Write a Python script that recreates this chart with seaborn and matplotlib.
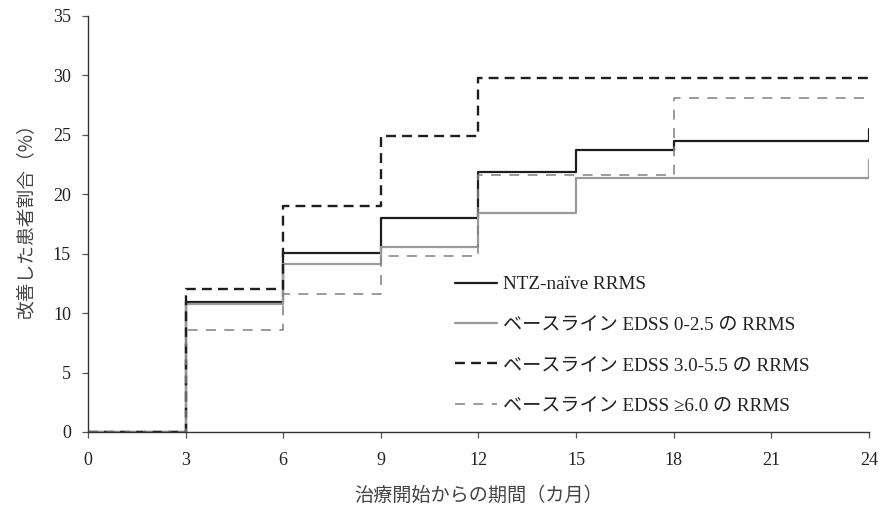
import matplotlib
matplotlib.use("Agg")
import matplotlib.pyplot as plt
import seaborn as sns
import pandas as pd

# Months after treatment start at which the cumulative share changes
months = [0, 3, 6, 9, 12, 15, 18, 24]

# Cumulative percentage of improved patients (step values, post)
ntz_naive = [0.0, 10.9, 15.1, 18.0, 21.9, 23.7, 24.5, 25.5]
edss_low = [0.0, 10.8, 14.1, 15.6, 18.4, 21.4, 21.4, 22.9]
edss_mid = [0.0, 12.0, 19.0, 24.9, 29.75, 29.75, 29.75, 29.75]
edss_high = [0.0, 8.6, 11.6, 14.8, 21.6, 21.6, 28.1, 28.1]

labels = [
    "NTZ-naïve RRMS",
    "ベースライン EDSS 0-2.5 の RRMS",
    "ベースライン EDSS 3.0-5.5 の RRMS",
    "ベースライン EDSS ≥6.0 の RRMS",
]

x_ticks = [0, 3, 6, 9, 12, 15, 18, 21, 24]
y_ticks = [0, 5, 10, 15, 20, 25, 30, 35]

sns.set_theme(style="white")
plt.rcParams["font.family"] = ["Liberation Serif", "Noto Sans CJK JP"]

frames = []
for lab, vals in zip(labels, [ntz_naive, edss_low, edss_mid, edss_high]):
    frames.append(pd.DataFrame({"month": months, "pct": vals, "group": lab}))
df = pd.concat(frames, ignore_index=True)

styles = {
    labels[0]: dict(color="#1e1e1e", lw=1.6, ls="-"),
    labels[1]: dict(color="#9a9a9a", lw=1.6, ls="-"),
    labels[2]: dict(color="#1e1e1e", lw=1.7, ls=(0, (4.2, 2.6))),
    labels[3]: dict(color="#808080", lw=1.1, ls=(0, (6.5, 5.5))),
}

fig = plt.figure(figsize=(8.88, 5.09), dpi=100)
ax = fig.add_axes([0.099, 0.1513, 0.8796, 0.8173])

for lab in labels:
    sub = df[df["group"] == lab]
    st = styles[lab]
    sns.lineplot(data=sub, x="month", y="pct", ax=ax, estimator=None, sort=False,
                 drawstyle="steps-post", color=st["color"], linewidth=st["lw"],
                 linestyle=st["ls"], label=lab)

ax.set_xlim(0, 24)
ax.set_ylim(0, 35)
ax.set_xticks(x_ticks)
ax.set_yticks(y_ticks)
ax.set_xticklabels([str(t) for t in x_ticks])
ax.set_yticklabels([str(t) for t in y_ticks])

for side in ["top", "right"]:
    ax.spines[side].set_visible(False)
for side in ["left", "bottom"]:
    ax.spines[side].set_color("#333333")
    ax.spines[side].set_linewidth(1.0)

ax.tick_params(axis="both", which="major", direction="out", length=4.2, width=0.9,
               color="#555555", labelsize=13, labelcolor="#222222",
               bottom=True, left=True)
ax.tick_params(axis="x", pad=10.5)
ax.tick_params(axis="y", pad=8)

ax.set_xlabel("治療開始からの期間（カ月）", fontsize=13.8, color="#444444",
              family=["Noto Sans CJK JP"], labelpad=11)
ax.set_ylabel("改善した患者割合（%）", fontsize=13.5, color="#444444",
              family=["Noto Sans CJK JP"], labelpad=12)
ax.yaxis.label.set_y(0.52)

leg = ax.legend(loc="upper left", bbox_to_anchor=(0.512, 0.458),
                bbox_transform=fig.transFigure, frameon=False,
                handlelength=2.2, handletextpad=0.3, labelspacing=1.2,
                borderpad=0, borderaxespad=0,
                prop={"family": ["Liberation Serif", "Noto Sans CJK JP"], "size": 13.8})
for t in leg.get_texts():
    t.set_color("#222222")

fig.savefig("out.png", dpi=100)
